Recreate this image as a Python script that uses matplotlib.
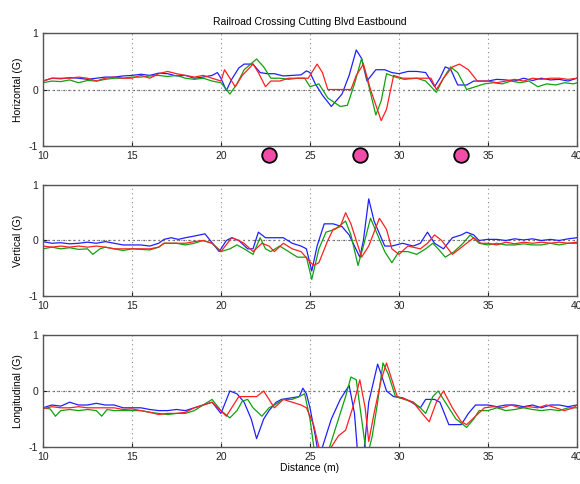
import matplotlib
matplotlib.use("Agg")
import matplotlib.pyplot as plt

plt.rcParams['font.family'] = ['Liberation Sans', 'DejaVu Sans']
plt.rcParams['axes.unicode_minus'] = False

title = "Railroad Crossing Cutting Blvd Eastbound"
ylabels = ["Horizontal (G)", "Vertical (G)", "Longitudinal (G)"]
xlabel = "Distance (m)"
xticks = [10, 15, 20, 25, 30, 35, 40]
yticks = [-1, 0, 1]
marker_x = [22.7, 27.8, 33.5]

# (distance, G) pairs
h_blue = [(10, .15), (10.5, .2), (11, .19), (11.5, .21), (12, .2), (12.5, .18), (13, .2), (13.5, .22),
          (14, .22), (14.5, .24), (15, .25), (15.5, .27), (16, .25), (16.5, .29), (17, .28), (17.5, .24),
          (18, .25), (18.5, .2), (19, .22), (19.5, .25), (19.8, .3), (20.0, .2), (20.3, -.02), (20.6, .18),
          (21.0, .38), (21.3, .45), (21.8, .45), (22.2, .3), (22.6, .28), (23.0, .28), (23.5, .24), (24.0, .25),
          (24.5, .26), (24.8, .33), (25.0, .3), (25.3, .1), (25.7, -.1), (26.2, -.3), (26.8, -.08), (27.2, .25),
          (27.6, .7), (27.9, .55), (28.2, .15), (28.7, .35), (29.2, .35), (29.6, .3), (30.0, .28), (30.5, .32),
          (31.0, .32), (31.5, .3), (32.0, .05), (32.3, .2), (32.6, .4), (32.9, .36), (33.3, .08), (33.8, .08),
          (34.2, .15), (35, .15), (35.5, .18), (36, .17), (36.5, .15), (37, .2), (37.5, .16), (38, .2),
          (38.5, .17), (39, .18), (39.5, .15), (40, .2)]
h_green = [(10, .12), (10.5, .15), (11, .14), (11.5, .17), (12, .12), (12.5, .16), (13, .15), (13.5, .18),
           (14, .2), (14.5, .2), (15, .22), (15.5, .22), (16, .24), (16.5, .25), (17, .23), (17.5, .25),
           (18, .2), (18.5, .18), (19, .2), (19.5, .15), (20, .12), (20.5, -.08), (20.9, .1), (21.3, .35),
           (22.0, .54), (22.4, .4), (22.8, .2), (23.3, .2), (23.8, .18), (24.3, .2), (24.7, .2), (25.0, .05),
           (25.5, .1), (26.0, -.15), (26.7, -.3), (27.1, -.28), (27.5, .1), (27.9, .55), (28.2, .2), (28.7, -.45),
           (29.0, -.2), (29.3, .28), (29.8, .22), (30.3, .18), (31, .2), (31.5, .15), (32.1, -.05), (32.5, .2),
           (32.9, .4), (33.3, .3), (33.8, .0), (34.3, .05), (34.8, .1), (35.3, .12), (35.8, .1), (36.3, .15),
           (36.8, .12), (37.3, .15), (37.8, .05), (38.3, .1), (38.8, .08), (39.3, .12), (39.8, .1), (40, .12)]
h_red = [(10, .15), (10.5, .2), (11, .2), (11.5, .2), (12, .22), (12.5, .2), (13, .15), (13.5, .2),
         (14, .22), (14.5, .2), (15, .2), (15.5, .25), (16, .2), (16.5, .28), (17, .32), (17.5, .28),
         (18, .25), (18.5, .22), (19, .25), (19.5, .2), (20, .15), (20.2, .35), (20.5, .2), (20.8, .05),
         (21.2, .25), (21.8, .45), (22.1, .3), (22.5, .05), (22.8, .15), (23.3, .15), (23.8, .2), (24.4, .2),
         (24.9, .2), (25.4, .45), (25.7, .3), (26.0, .0), (26.5, .0), (27.0, .0), (27.3, .0), (27.6, .25),
         (28.0, .45), (28.4, .0), (29.0, -.55), (29.3, -.35), (29.7, .25), (30.2, .2), (30.8, .2), (31.4, .2),
         (31.8, .2), (32.1, .0), (32.5, .2), (33.0, .4), (33.4, .45), (33.9, .35), (34.4, .15), (35, .15),
         (35.5, .12), (36, .15), (36.5, .18), (37, .15), (37.5, .2), (38, .18), (38.5, .2), (39, .2),
         (39.5, .18), (40, .2)]

v_blue = [(10, -.02), (10.5, -.05), (11, -.04), (11.5, -.06), (12, -.05), (12.5, -.03), (13, -.05), (13.5, -.02),
          (14, -.05), (14.5, -.08), (15, -.08), (15.5, -.08), (16, -.1), (16.5, -.05), (16.8, .02), (17.2, .05),
          (17.6, .02), (18, .05), (18.5, .08), (19.1, .12), (19.4, .0), (19.9, -.2), (20.3, .0), (20.6, .05),
          (21.0, .0), (21.5, -.15), (21.8, -.15), (22.1, .15), (22.5, .05), (23.0, .05), (23.5, .05), (24.0, -.05),
          (24.5, -.1), (24.8, -.15), (25.1, -.55), (25.4, -.1), (25.8, .3), (26.3, .3), (26.8, .25), (27.2, .1),
          (27.8, -.3), (28.0, .0), (28.3, .75), (28.6, .35), (29.2, -.1), (29.6, -.1), (30.2, -.05), (30.8, -.1),
          (31.2, -.05), (31.6, .15), (32.0, -.05), (32.5, -.15), (33.0, .05), (33.5, .1), (33.8, .15), (34.2, .1),
          (34.5, .0), (35, .02), (35.5, .02), (36, .0), (36.5, .03), (37, .01), (37.5, .03), (38, .0),
          (38.5, .02), (39, .0), (39.5, .03), (40, .05)]
v_green = [(10, -.15), (10.5, -.12), (11, -.15), (11.5, -.13), (12, -.16), (12.5, -.15), (12.8, -.25), (13.2, -.15),
           (13.5, -.12), (14, -.15), (14.5, -.18), (15, -.15), (15.5, -.16), (16, -.17), (16.5, -.12), (16.8, -.05),
           (17.5, -.05), (18, -.08), (18.5, -.05), (19, .0), (19.5, -.05), (20, -.2), (20.5, -.15), (20.9, -.08),
           (21.3, -.15), (21.8, -.25), (22.2, .05), (22.5, -.15), (22.8, -.2), (23.3, -.1), (23.8, -.2), (24.3, -.3),
           (24.8, -.3), (25.1, -.7), (25.5, -.15), (25.9, .15), (26.4, .2), (27.0, .35), (27.3, .1), (27.7, -.45),
           (28.0, -.1), (28.4, .4), (28.8, .1), (29.2, -.2), (29.6, -.4), (30.0, -.2), (30.5, -.2), (31.0, -.25),
           (31.5, -.15), (31.9, -.05), (32.2, -.15), (32.6, -.3), (33.1, -.2), (33.6, -.05), (34.0, .1), (34.5, -.05),
           (35, -.08), (35.5, -.05), (36, -.08), (36.5, -.08), (37, -.06), (37.5, -.08), (38, -.08), (38.5, -.05),
           (39, -.08), (39.5, -.05), (40, -.05)]
v_red = [(10, -.1), (10.5, -.12), (11, -.1), (11.5, -.12), (12, -.1), (12.5, -.12), (13, -.1), (13.5, -.12),
         (14, -.15), (14.5, -.15), (15, -.15), (15.5, -.15), (16, -.15), (16.5, -.12), (16.8, -.05), (17.5, -.05),
         (18, -.05), (18.5, -.02), (19, .0), (19.5, -.05), (20, -.2), (20.6, .05), (21.0, .0), (21.3, -.05),
         (21.8, -.2), (22.3, -.05), (22.7, -.1), (23.0, -.2), (23.5, -.05), (24.0, -.15), (24.5, -.2), (24.9, -.35),
         (25.2, -.45), (25.5, -.4), (26.0, .0), (26.3, .2), (26.7, .25), (27.0, .5), (27.3, .3), (27.9, -.3),
         (28.3, -.1), (28.9, .4), (29.3, .2), (29.6, -.15), (30.0, -.25), (30.5, -.1), (31.2, -.15), (31.6, -.05),
         (32.0, .1), (32.4, .0), (33.0, -.25), (33.6, -.1), (34.2, .05), (34.6, -.05), (35, -.05), (35.5, -.08),
         (36, -.03), (36.5, -.06), (37, -.03), (37.5, -.05), (38, -.03), (38.5, -.05), (39, -.03), (39.5, -.05),
         (40, -.03)]

l_blue = [(10, -.3), (10.5, -.25), (11, -.27), (11.5, -.2), (12, -.25), (12.5, -.25), (13, -.22), (13.5, -.25),
          (14, -.25), (14.5, -.3), (15, -.3), (15.5, -.3), (16, -.33), (16.5, -.35), (17, -.35), (17.5, -.33),
          (18, -.35), (18.5, -.3), (19, -.25), (19.5, -.2), (20, -.4), (20.5, .0), (20.9, -.05), (21.3, -.2),
          (21.7, -.5), (22.0, -.85), (22.4, -.5), (22.7, -.35), (23.1, -.2), (23.4, -.15), (24.0, -.12), (24.4, -.1),
          (24.6, .05), (24.8, -.05), (25.0, -.3), (25.3, -.8), (25.5, -1.2), (25.8, -.9), (26.2, -.5), (26.7, -.15),
          (27.2, .1), (27.5, -.4), (27.7, -1.2), (28.0, -1.2), (28.3, -.2), (28.8, .48), (29.0, .3), (29.3, .0),
          (29.7, -.1), (30.2, -.12), (30.7, -.2), (31.2, -.3), (31.5, -.15), (32.0, -.15), (32.3, -.2), (32.8, -.6),
          (33.5, -.6), (33.9, -.4), (34.3, -.25), (35, -.25), (35.5, -.28), (36, -.25), (36.5, -.25), (37, -.28),
          (37.5, -.25), (38, -.3), (38.5, -.25), (39, -.25), (39.5, -.28), (40, -.25)]
l_green = [(10, -.3), (10.4, -.32), (10.7, -.45), (11, -.35), (11.5, -.33), (12, -.35), (12.5, -.33), (13, -.35),
           (13.3, -.45), (13.6, -.33), (14, -.35), (14.5, -.35), (15, -.35), (15.5, -.35), (16, -.38), (16.5, -.4),
           (17, -.42), (17.5, -.4), (18, -.4), (18.5, -.35), (19, -.25), (19.5, -.15), (20.0, -.35), (20.5, -.48),
           (20.9, -.35), (21.2, -.18), (21.5, -.15), (21.8, -.3), (22.3, -.45), (22.7, -.3), (23.0, -.25), (23.5, -.15),
           (24.0, -.15), (24.4, -.1), (24.7, -.05), (25.0, -.5), (25.3, -1.2), (25.9, -1.2), (26.2, -.9), (26.6, -.5),
           (27.0, -.1), (27.3, .25), (27.6, .2), (27.9, -.5), (28.2, -1.2), (28.5, -.8), (28.8, -.2), (29.1, .5),
           (29.4, .3), (29.8, -.1), (30.3, -.15), (30.8, -.2), (31.2, -.3), (31.5, -.4), (31.9, -.1), (32.2, .0),
           (32.6, -.2), (33.2, -.5), (33.8, -.65), (34.2, -.5), (34.5, -.35), (35, -.35), (35.5, -.3), (36, -.35),
           (36.5, -.33), (37, -.3), (37.5, -.33), (38, -.35), (38.5, -.33), (39, -.35), (39.5, -.3), (40, -.3)]
l_red = [(10, -.32), (10.5, -.28), (11, -.3), (11.5, -.3), (12, -.28), (12.5, -.3), (13, -.3), (13.5, -.3),
         (14, -.3), (14.5, -.33), (15, -.32), (15.5, -.35), (16, -.38), (16.5, -.42), (17, -.4), (17.5, -.4),
         (18, -.38), (18.5, -.3), (19, -.25), (19.5, -.2), (20.3, -.45), (20.7, -.25), (21.0, -.1), (21.5, -.1),
         (22.0, -.1), (22.4, .0), (22.8, -.2), (23.0, -.3), (23.5, -.15), (24.0, -.2), (24.5, -.25), (24.8, -.3),
         (25.2, -.6), (25.5, -1.0), (25.8, -1.1), (26.2, -1.0), (26.6, -.8), (27.0, -.7), (27.4, -.3), (27.8, .2),
         (28.1, -.3), (28.3, -.9), (28.6, -.4), (29.0, .2), (29.3, .5), (29.6, .2), (29.9, -.1), (30.4, -.15),
         (30.8, -.2), (31.3, -.4), (31.7, -.55), (32.1, -.2), (32.5, .0), (33.0, -.3), (33.5, -.55), (33.8, -.6),
         (34.3, -.45), (34.8, -.3), (35.3, -.28), (35.8, -.3), (36.3, -.25), (36.8, -.3), (37.3, -.28), (37.8, -.3),
         (38.3, -.25), (38.8, -.3), (39.3, -.35), (39.8, -.3), (40, -.25)]

panels = [(h_blue, h_green, h_red), (v_blue, v_green, v_red), (l_blue, l_green, l_red)]
colors = ["#2020ff", "#10a010", "#ff2020"]

fig = plt.figure(figsize=(5.8, 4.84), dpi=100)
left, width = 0.0741, 0.9207
boxes = [(0.6983, 0.2335), (0.3884, 0.2294), (0.0764, 0.2315)]

for i, (bottom, height) in enumerate(boxes):
    ax = fig.add_axes([left, bottom, width, height])
    for series, c in zip(panels[i], colors):
        xs = [p[0] for p in series]
        ys = [p[1] for p in series]
        ax.plot(xs, ys, color=c, lw=0.9)
    ax.set_xlim(10, 40)
    ax.set_ylim(-1, 1)
    ax.set_xticks(xticks)
    ax.set_yticks(yticks)
    ax.grid(True, color="#888888", linestyle=(0, (1, 3)), lw=0.8)
    ax.axhline(0, color="#333333", linestyle=(0, (1, 3)), lw=0.9, zorder=0.5)
    ax.tick_params(direction="in", labelsize=7.5, length=3, colors="#222222")
    for s in ax.spines.values():
        s.set_color("#555555")
        s.set_linewidth(1.0)
    ax.set_ylabel(ylabels[i], fontsize=7.5, labelpad=4)
    if i == 0:
        ax.set_title(title, fontsize=7.5, pad=6)
        ax.plot(marker_x, [-1.16] * len(marker_x), "o", ms=10.5, mfc="#f04ca8",
                mec="black", mew=1.3, clip_on=False, zorder=5)
    if i == 2:
        ax.set_xlabel(xlabel, fontsize=7.5, labelpad=1)

fig.savefig("out.png", dpi=100)
